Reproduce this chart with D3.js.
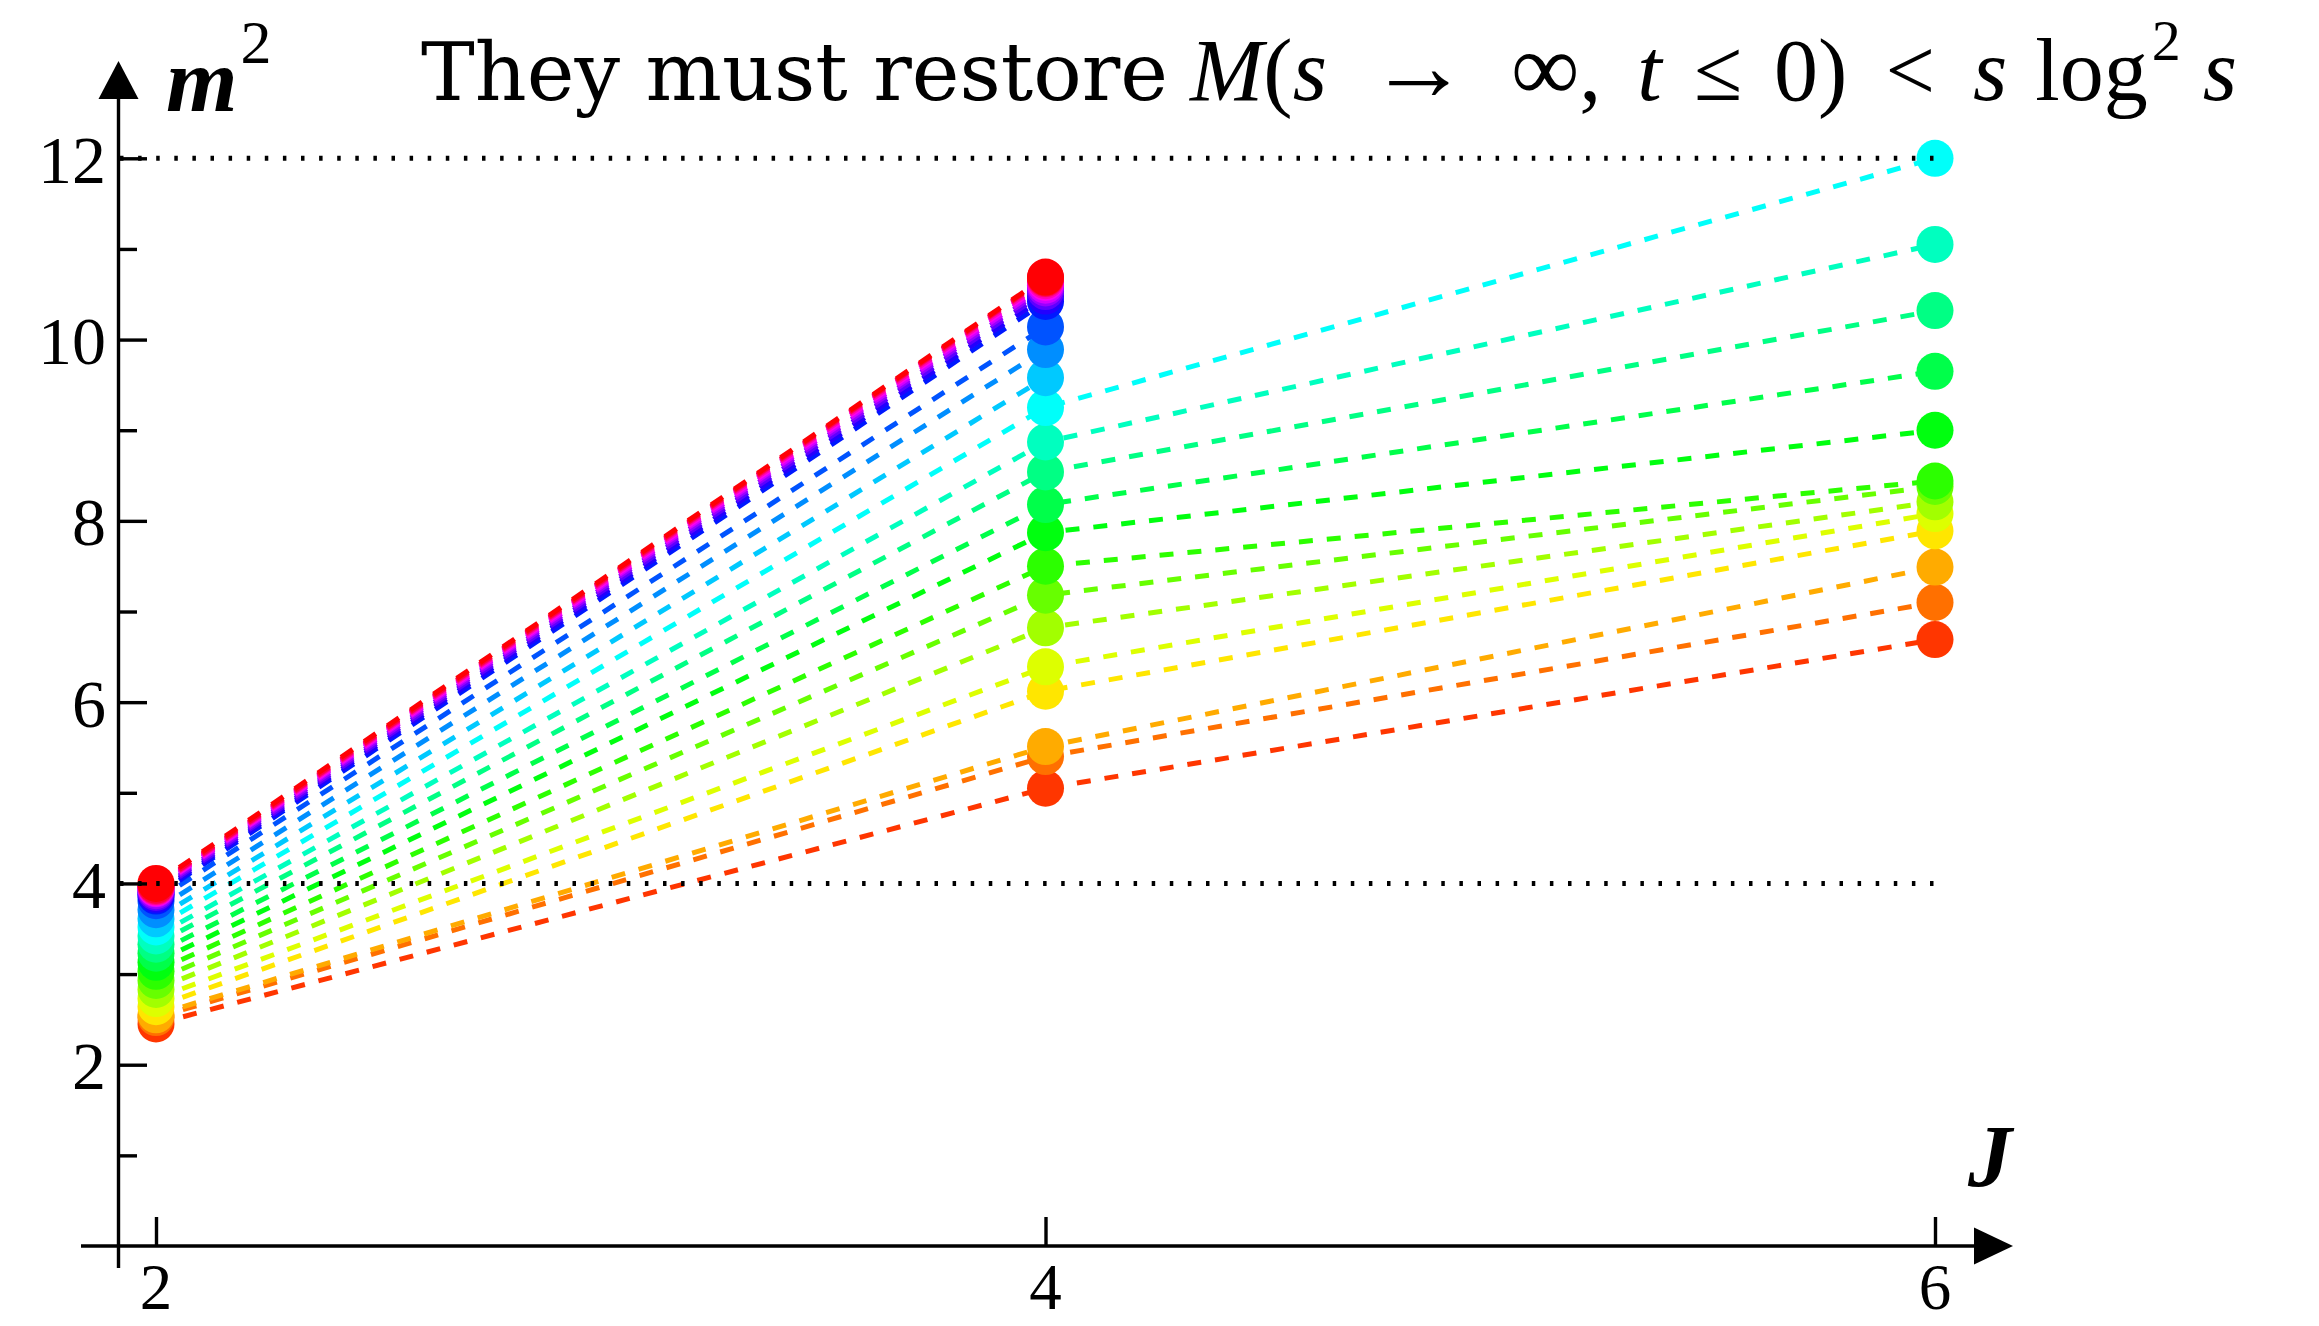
<!DOCTYPE html>
<html>
<head>
<meta charset="utf-8">
<script src="https://cdnjs.cloudflare.com/ajax/libs/d3/7.8.5/d3.min.js"></script>
<style>
  body { margin: 0; background: #fff; }
  svg { display: block; }
  .num { font-family: "Liberation Serif", "Tinos", "Times New Roman", "Nimbus Roman", "DejaVu Serif", serif; font-size: 68px; fill: #000; }
  .math { font-family: "Liberation Serif", "Tinos", "Times New Roman", "Nimbus Roman", "DejaVu Serif", serif; fill: #000; }
</style>
</head>
<body>
<div id="chart"></div>
<script>

// spins on the horizontal axis
const spins = [2, 4, 6];
const yMajorTicks = [2, 4, 6, 8, 10, 12];
const yMinorTicks = [1, 3, 5, 7, 9, 11];
const boundLevels = [4, 12];

// m^2 of every trajectory at J = 2, 4, 6 (null : trajectory stops at J = 4)
const m2AtJ2 = [2.45, 2.52, 2.55, 2.64, 2.73, 2.83, 2.93, 3.03, 3.13, 3.23, 3.33, 3.42, 3.52,
                3.61, 3.71, 3.81, 3.86, 3.88, 3.90, 3.92, 3.94, 3.95, 3.96, 3.97, 3.98, 4.00];
const m2AtJ4 = [5.05, 5.40, 5.51, 6.12, 6.39, 6.82, 7.18, 7.50, 7.87, 8.18, 8.54, 8.87, 9.25,
                9.58, 9.89, 10.14, 10.42, 10.48, 10.53, 10.57, 10.60, 10.63, 10.65, 10.67, 10.68, 10.69];
const m2AtJ6 = [6.69, 7.10, 7.49, 7.89, 8.08, 8.21, 8.38, 8.44, 9.00, 9.65, 10.32, 11.05, 12.00,
                null, null, null, null, null, null, null, null, null, null, null, null, null];

class SpectrumChart {

  constructor() {
    this.svgWidth = 2319;
    this.svgHeight = 1326;
    this.axisX = 118.5;

    this.svg = d3.select("#chart").append("svg")
    .attr("width", this.svgWidth)
    .attr("height", this.svgHeight);

    this.x = d3.scaleLinear().domain([2, 6]).range([156, 1935]);
    this.y = d3.scaleLinear().domain([0, 12]).range([1246, 158.3]);

    // rainbow, one hue per trajectory
    this.hue = d3.scaleLinear().domain([0, m2AtJ2.length - 1]).range([12.6, 359]);
  }

  draw() {
    this.drawSeries();
    this.drawBounds();
    this.drawAxes();
    this.drawTitle();
  }

  drawSeries() {
    let series = m2AtJ2.map((v, i) => {
      let pts = [{J: spins[0], m: v}, {J: spins[1], m: m2AtJ4[i]}];
      if (m2AtJ6[i] !== null) pts.push({J: spins[2], m: m2AtJ6[i]});
      return {id: i, color: d3.hsl(this.hue(i), 1, 0.5).formatHex(), pts: pts};
    });

    let line = d3.line().x(d => this.x(d.J)).y(d => this.y(d.m));

    let g = this.svg.append("g").selectAll("g")
    .data(series)
    .enter().append("g");

    g.append("path")
    .attr("d", d => line(d.pts))
    .attr("fill", "none")
    .attr("stroke", d => d.color)
    .attr("stroke-width", 5)
    .attr("stroke-dasharray", "14 14");

    g.selectAll("circle")
    .data(d => d.pts.map(p => ({J: p.J, m: p.m, color: d.color})))
    .enter().append("circle")
    .attr("cx", d => this.x(d.J))
    .attr("cy", d => this.y(d.m))
    .attr("r", 18.5)
    .attr("fill", d => d.color);
  }

  drawBounds() {
    this.svg.append("g").selectAll("line")
    .data(boundLevels)
    .enter().append("line")
    .attr("x1", this.axisX + 1.5)
    .attr("x2", this.x(6) + 2)
    .attr("y1", d => this.y(d))
    .attr("y2", d => this.y(d))
    .attr("stroke", "#000")
    .attr("stroke-width", 5)
    .attr("stroke-dasharray", "3.5 14.6");
  }

  drawAxes() {
    let y0 = this.y(0);
    let axes = this.svg.append("g").attr("stroke", "#000").attr("stroke-width", 3.4);

    // y axis
    axes.append("line")
    .attr("x1", this.axisX).attr("x2", this.axisX)
    .attr("y1", 1268).attr("y2", 96);
    this.svg.append("path")
    .attr("d", `M${this.axisX},61 L${this.axisX - 20},99 L${this.axisX + 20},99 Z`)
    .attr("fill", "#000");

    // x axis
    axes.append("line")
    .attr("x1", 81).attr("x2", 1976)
    .attr("y1", y0).attr("y2", y0);
    this.svg.append("path")
    .attr("d", `M2013,${y0} L1974,${y0 - 18.5} L1974,${y0 + 18.5} Z`)
    .attr("fill", "#000");

    let yMajor = d3.axisRight(this.y).tickValues(yMajorTicks).tickSize(28.5).tickFormat("");
    let yMinor = d3.axisRight(this.y).tickValues(yMinorTicks).tickSize(18.5).tickFormat("");
    [yMajor, yMinor].forEach(ax => {
      let gAx = this.svg.append("g")
      .attr("transform", `translate(${this.axisX},0)`)
      .call(ax);
      gAx.select(".domain").remove();
      gAx.selectAll("line").attr("stroke", "#000").attr("stroke-width", 3.4);
    });

    let xAx = this.svg.append("g")
    .attr("transform", `translate(0,${y0})`)
    .call(d3.axisTop(this.x).tickValues(spins).tickSize(29).tickFormat(""));
    xAx.select(".domain").remove();
    xAx.selectAll("line").attr("stroke", "#000").attr("stroke-width", 3.4);

    // tick labels
    this.svg.append("g").selectAll("text")
    .data(yMajorTicks)
    .enter().append("text")
    .attr("class", "num")
    .attr("x", 106)
    .attr("y", d => this.y(d))
    .attr("dy", "0.36em")
    .attr("text-anchor", "end")
    .text(d => d);

    this.svg.append("g").selectAll("text")
    .data(spins)
    .enter().append("text")
    .attr("class", "num")
    .attr("x", d => this.x(d))
    .attr("y", 1309)
    .style("font-size", "65px")
    .attr("text-anchor", "middle")
    .text(d => d);

    // axis names
    let mLabel = this.svg.append("text")
    .attr("class", "math")
    .attr("x", 166)
    .attr("y", 111)
    .style("font-size", "92px");
    mLabel.append("tspan").attr("font-style", "italic").attr("font-weight", "bold").text("m");
    mLabel.append("tspan").attr("dx", 3).attr("dy", -48).style("font-size", "62px").text("2");

    this.svg.append("text")
    .attr("class", "math")
    .attr("x", 1968)
    .attr("y", 1186)
    .style("font-size", "88px")
    .attr("font-style", "italic")
    .attr("font-weight", "bold")
    .text("J");
  }

  drawTitle() {
    this.svg.append("text")
    .attr("x", 421)
    .attr("y", 100)
    .attr("font-family", "'DejaVu Serif', serif")
    .style("font-size", "80px")
    .attr("textLength", 747)
    .attr("lengthAdjust", "spacingAndGlyphs")
    .text("They must restore");

    let t = this.svg.append("text")
    .attr("class", "math")
    .attr("x", 1190)
    .attr("y", 100)
    .style("font-size", "88px");
    // [text, italic, extra space before, font size]
    let parts = [
      ["M", true, 0, 88], ["(", false, 0, 88], ["s", true, 0, 88],
      ["\u2192", false, 42, 100], ["\u221E", false, 42, 96], [",", false, 0, 88],
      ["t", true, 36, 88], ["\u2264", false, 32, 88], ["0", false, 32, 88], [")", false, 0, 88],
      ["<", false, 38, 88], ["s", true, 38, 88], ["log", false, 28, 88]
    ];
    parts.forEach(p => {
      t.append("tspan")
      .attr("font-style", p[1] ? "italic" : "normal")
      .attr("dx", p[2])
      .style("font-size", p[3] + "px")
      .text(p[0]);
    });
    t.append("tspan").attr("dx", 4).attr("dy", -40).style("font-size", "58px").text("2");
    t.append("tspan").attr("dx", 22).attr("dy", 40).attr("font-style", "italic").text("s");
  }
}

let chart = new SpectrumChart();
chart.draw();

</script>
</body>
</html>
